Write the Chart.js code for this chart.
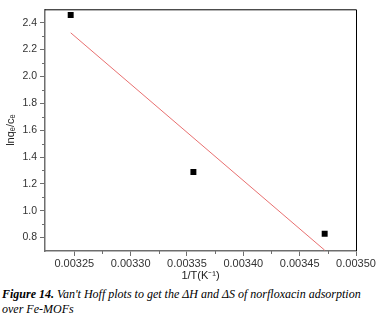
<!DOCTYPE html>
<html><head><meta charset="utf-8">
<script src="https://cdn.jsdelivr.net/npm/chart.js@4"></script>
<style>
html,body{margin:0;padding:0;background:#fff;}
#wrap{position:relative;width:383px;height:283px;}
#cap{position:absolute;left:2px;top:287px;width:381px;font-family:"Liberation Serif","Times New Roman",serif;font-style:italic;font-size:12px;line-height:15px;color:#000;}
</style></head><body>
<div id="wrap"><canvas id="c" width="383" height="283"></canvas></div>
<div id="cap"><b>Figure 14.</b> Van't Hoff plots to get the ΔH and ΔS of norfloxacin adsorption over Fe-MOFs</div>
<script>
const invT = [0.0032468, 0.0033557, 0.0034722];
const lnQeCe = [2.457, 1.288, 0.829];
const fitX = [0.0032468, 0.0034722];
const fitY = [2.325, 0.706];
const xTicks = [0.00325, 0.00330, 0.00335, 0.00340, 0.00345, 0.00350];
const xMinor = [0.003275, 0.003325, 0.003375, 0.003425, 0.003475];
const yTicks = [0.8, 1.0, 1.2, 1.4, 1.6, 1.8, 2.0, 2.2, 2.4];
const yMinor = [0.9, 1.1, 1.3, 1.5, 1.7, 1.9, 2.1, 2.3];
const xLabel = '1/T(K\u207B\u00B9)';
const yLabel = 'lnq\u2091/c\u2091';

const axisGray = '#6e6e6e';
const frame = {
  id:'frame',
  afterDatasetsDraw(chart){
    const {ctx, chartArea:a, scales} = chart;
    ctx.save();
    ctx.strokeStyle = '#000'; ctx.lineWidth = 1;
    ctx.beginPath();
    ctx.moveTo(a.left, a.top+0.5); ctx.lineTo(a.right+0.5, a.top+0.5); ctx.lineTo(a.right+0.5, a.bottom);
    ctx.stroke();
    ctx.strokeStyle = axisGray; ctx.lineWidth = 1;
    ctx.beginPath();
    xMinor.forEach(v=>{const p=Math.round(scales.x.getPixelForValue(v))+0.5; ctx.moveTo(p,a.bottom); ctx.lineTo(p,a.bottom+3);});
    yMinor.forEach(v=>{const p=Math.round(scales.y.getPixelForValue(v))+0.5; ctx.moveTo(a.left,p); ctx.lineTo(a.left-3,p);});
    ctx.stroke();
    ctx.restore();
  }
};

new Chart(document.getElementById('c'), {
  type:'scatter',
  data:{datasets:[
    {data: invT.map((x,i)=>({x, y:lnQeCe[i]})), pointStyle:'rect', pointRadius:4.2, backgroundColor:'#000', borderColor:'#000', borderWidth:0, showLine:false},
    {data: fitX.map((x,i)=>({x, y:fitY[i]})), showLine:true, pointRadius:0, borderColor:'rgb(232,112,112)', borderWidth:1}
  ]},
  plugins:[frame],
  options:{
    animation:false, responsive:false,
    layout:{padding:{left:0, right:27, top:6, bottom:0}},
    plugins:{legend:{display:false}, tooltip:{enabled:false}},
    scales:{
      x:{type:'linear', min:0.003224, max:0.0035,
        afterBuildTicks(s){ s.ticks = xTicks.map(v=>({value:v})); },
        afterFit(s){ s.height = 32; },
        ticks:{callback:v=>v.toFixed(5), color:'#333', font:{family:'Liberation Sans, Arial', size:11}, padding:1, maxRotation:0, autoSkip:false},
        grid:{drawOnChartArea:false, drawTicks:true, tickLength:5, tickColor:axisGray},
        border:{display:true, color:axisGray, width:1.5},
        title:{display:true, text:xLabel, color:'#222', font:{family:'Liberation Sans, Arial', size:11}, padding:{top:1,bottom:0}}
      },
      y:{type:'linear', min:0.7, max:2.5,
        afterBuildTicks(s){ s.ticks = yTicks.map(v=>({value:v})); },
        afterFit(s){ s.width = 45; },
        ticks:{callback:v=>v.toFixed(1), color:'#333', font:{family:'Liberation Sans, Arial', size:10.5}, padding:3, autoSkip:false},
        grid:{drawOnChartArea:false, drawTicks:true, tickLength:5, tickColor:axisGray},
        border:{display:true, color:axisGray, width:1.5},
        title:{display:true, text:yLabel, color:'#222', font:{family:'Liberation Sans, Arial', size:11}, padding:{top:4,bottom:0}}
      }
    }
  }
});
</script>
</body></html>
